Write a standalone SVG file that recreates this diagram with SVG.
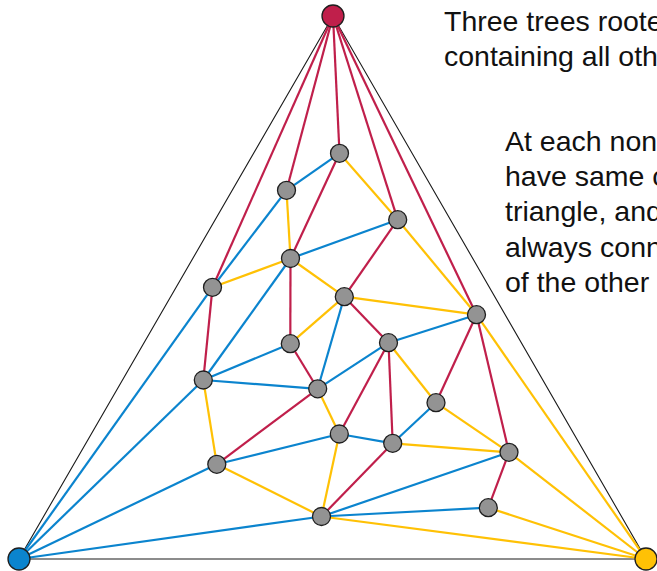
<svg xmlns="http://www.w3.org/2000/svg" width="657" height="571" viewBox="0 0 657 571">
<style>
.tri{stroke:#1a1a1a;stroke-width:1.1;fill:none}
.r{stroke:#C01F4B;stroke-width:2.2;fill:none}
.b{stroke:#0B84CE;stroke-width:2.2;fill:none}
.y{stroke:#FFC105;stroke-width:2.2;fill:none}
.n{fill:#939393;stroke:#1f1f1f;stroke-width:1.3}
.root{stroke:#1f1f1f;stroke-width:1.3}
.t{font-family:"Liberation Sans",Arial,sans-serif;font-size:28.5px;fill:#111}
</style>
<rect width="657" height="571" fill="#fff"/>
<g id="outer-triangle">
<path class="tri" d="M333,16 L19,559 L646,559 Z"/>
</g>
<g id="connectors">
<g id="red-edges">
<line class="r" x1="333" y1="16" x2="212.5" y2="287.3"/>
<line class="r" x1="333" y1="16" x2="286.5" y2="190.3"/>
<line class="r" x1="333" y1="16" x2="339.5" y2="153.3"/>
<line class="r" x1="333" y1="16" x2="397.7" y2="219.7"/>
<line class="r" x1="333" y1="16" x2="476.5" y2="314.7"/>
<line class="r" x1="339.5" y1="153.3" x2="290.5" y2="258.5"/>
<line class="r" x1="290.5" y1="258.5" x2="290.3" y2="343.7"/>
<line class="r" x1="290.3" y1="343.7" x2="317.7" y2="388.8"/>
<line class="r" x1="317.7" y1="388.8" x2="216.8" y2="464.3"/>
<line class="r" x1="397.7" y1="219.7" x2="344.3" y2="296.7"/>
<line class="r" x1="344.3" y1="296.7" x2="388.5" y2="342.7"/>
<line class="r" x1="388.5" y1="342.7" x2="339.3" y2="434"/>
<line class="r" x1="388.5" y1="342.7" x2="392.7" y2="443.3"/>
<line class="r" x1="392.7" y1="443.3" x2="321.5" y2="516.5"/>
<line class="r" x1="476.5" y1="314.7" x2="436" y2="402.7"/>
<line class="r" x1="476.5" y1="314.7" x2="509" y2="452.3"/>
<line class="r" x1="509" y1="452.3" x2="488.3" y2="507.7"/>
<line class="r" x1="212.5" y1="287.3" x2="203.3" y2="380"/>
</g>
<g id="blue-edges">
<line class="b" x1="339.5" y1="153.3" x2="286.5" y2="190.3"/>
<line class="b" x1="286.5" y1="190.3" x2="212.5" y2="287.3"/>
<line class="b" x1="397.7" y1="219.7" x2="290.5" y2="258.5"/>
<line class="b" x1="290.5" y1="258.5" x2="203.3" y2="380"/>
<line class="b" x1="212.5" y1="287.3" x2="19" y2="559"/>
<line class="b" x1="344.3" y1="296.7" x2="317.7" y2="388.8"/>
<line class="b" x1="476.5" y1="314.7" x2="388.5" y2="342.7"/>
<line class="b" x1="290.3" y1="343.7" x2="203.3" y2="380"/>
<line class="b" x1="388.5" y1="342.7" x2="317.7" y2="388.8"/>
<line class="b" x1="203.3" y1="380" x2="19" y2="559"/>
<line class="b" x1="317.7" y1="388.8" x2="203.3" y2="380"/>
<line class="b" x1="436" y1="402.7" x2="392.7" y2="443.3"/>
<line class="b" x1="339.3" y1="434" x2="216.8" y2="464.3"/>
<line class="b" x1="392.7" y1="443.3" x2="339.3" y2="434"/>
<line class="b" x1="509" y1="452.3" x2="321.5" y2="516.5"/>
<line class="b" x1="216.8" y1="464.3" x2="19" y2="559"/>
<line class="b" x1="321.5" y1="516.5" x2="19" y2="559"/>
<line class="b" x1="488.3" y1="507.7" x2="321.5" y2="516.5"/>
</g>
<g id="yellow-edges">
<line class="y" x1="339.5" y1="153.3" x2="397.7" y2="219.7"/>
<line class="y" x1="286.5" y1="190.3" x2="290.5" y2="258.5"/>
<line class="y" x1="397.7" y1="219.7" x2="476.5" y2="314.7"/>
<line class="y" x1="290.5" y1="258.5" x2="344.3" y2="296.7"/>
<line class="y" x1="212.5" y1="287.3" x2="290.5" y2="258.5"/>
<line class="y" x1="344.3" y1="296.7" x2="476.5" y2="314.7"/>
<line class="y" x1="476.5" y1="314.7" x2="646" y2="559"/>
<line class="y" x1="290.3" y1="343.7" x2="344.3" y2="296.7"/>
<line class="y" x1="388.5" y1="342.7" x2="436" y2="402.7"/>
<line class="y" x1="203.3" y1="380" x2="216.8" y2="464.3"/>
<line class="y" x1="317.7" y1="388.8" x2="339.3" y2="434"/>
<line class="y" x1="436" y1="402.7" x2="509" y2="452.3"/>
<line class="y" x1="339.3" y1="434" x2="321.5" y2="516.5"/>
<line class="y" x1="392.7" y1="443.3" x2="509" y2="452.3"/>
<line class="y" x1="509" y1="452.3" x2="646" y2="559"/>
<line class="y" x1="216.8" y1="464.3" x2="321.5" y2="516.5"/>
<line class="y" x1="321.5" y1="516.5" x2="646" y2="559"/>
<line class="y" x1="488.3" y1="507.7" x2="646" y2="559"/>
</g>
</g>
<g id="root-red"><circle class="root" cx="333" cy="16" r="11" fill="#C01F4B"/></g>
<g id="root-blue"><circle class="root" cx="19" cy="559" r="11" fill="#0B84CE"/></g>
<g id="root-yellow"><circle class="root" cx="646" cy="559" r="11" fill="#FFC105"/></g>
<g id="n1"><circle class="n" cx="339.5" cy="153.3" r="9"/></g>
<g id="n2"><circle class="n" cx="286.5" cy="190.3" r="9"/></g>
<g id="n3"><circle class="n" cx="397.7" cy="219.7" r="9"/></g>
<g id="n4"><circle class="n" cx="290.5" cy="258.5" r="9"/></g>
<g id="n5"><circle class="n" cx="212.5" cy="287.3" r="9"/></g>
<g id="n6"><circle class="n" cx="344.3" cy="296.7" r="9"/></g>
<g id="n7"><circle class="n" cx="476.5" cy="314.7" r="9"/></g>
<g id="n8"><circle class="n" cx="290.3" cy="343.7" r="9"/></g>
<g id="n9"><circle class="n" cx="388.5" cy="342.7" r="9"/></g>
<g id="n10"><circle class="n" cx="203.3" cy="380" r="9"/></g>
<g id="n11"><circle class="n" cx="317.7" cy="388.8" r="9"/></g>
<g id="n12"><circle class="n" cx="436" cy="402.7" r="9"/></g>
<g id="n13"><circle class="n" cx="339.3" cy="434" r="9"/></g>
<g id="n14"><circle class="n" cx="392.7" cy="443.3" r="9"/></g>
<g id="n15"><circle class="n" cx="509" cy="452.3" r="9"/></g>
<g id="n16"><circle class="n" cx="216.8" cy="464.3" r="9"/></g>
<g id="n17"><circle class="n" cx="321.5" cy="516.5" r="9"/></g>
<g id="n18"><circle class="n" cx="488.3" cy="507.7" r="9"/></g>
<g id="caption-top">
<text class="t" x="444" y="31">Three trees roote</text>
<text class="t" x="444" y="66">containing all oth</text>
</g>
<g id="caption-side">
<text class="t" x="505" y="151">At each non</text>
<text class="t" x="505" y="186">have same c</text>
<text class="t" x="505" y="221">triangle, and</text>
<text class="t" x="505" y="256.5">always conne</text>
<text class="t" x="505" y="292">of the other</text>
</g>
</svg>
